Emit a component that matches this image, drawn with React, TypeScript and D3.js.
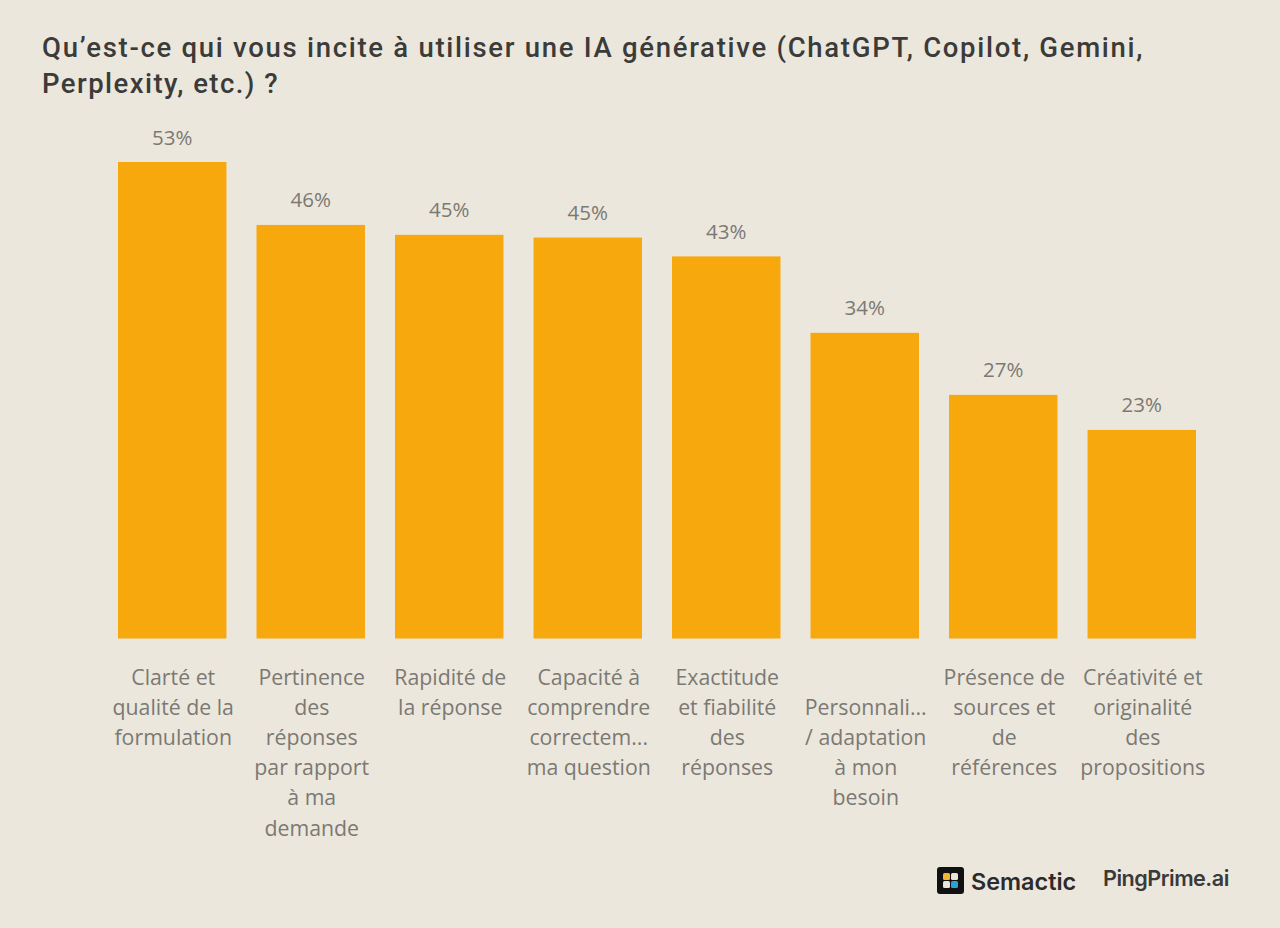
import React, { useEffect, useRef } from 'react';
import * as d3 from 'd3';

const titleLines = [
	'Qu’est-ce qui vous incite à utiliser une IA générative (ChatGPT, Copilot, Gemini,',
	'Perplexity, etc.) ?',
];
const categories = [
	['Clarté et', 'qualité de la', 'formulation'],
	['Pertinence', 'des', 'réponses', 'par rapport', 'à ma', 'demande'],
	['Rapidité de', 'la réponse'],
	['Capacité à', 'comprendre', 'correctem...', 'ma question'],
	['Exactitude', 'et fiabilité', 'des', 'réponses'],
	['', 'Personnali...', '/ adaptation', 'à mon', 'besoin'],
	['Présence de', 'sources et', 'de', 'références'],
	['Créativité et', 'originalité', 'des', 'propositions'],
];
// heights, the labels are rounded
const values = [53, 46, 44.9, 44.6, 42.5, 34, 27.1, 23.2];
const valueLabels = ['53%', '46%', '45%', '45%', '43%', '34%', '27%', '23%'];
const logoColors = ['#f2b632', '#e8e4da', '#e8e4da', '#2a9fd8'];

const width = 1280;
const height = 928;
const background = '#ece7dd';

const App: React.FC = () => {
	const svgRef = useRef<SVGSVGElement | null>(null);

	useEffect(() => {
		if (!svgRef.current) return;

		const svg = d3.select(svgRef.current);
		svg.selectAll('*').remove();

		svg.append('rect').attr('width', width).attr('height', height).attr('fill', background);

		const x = d3
			.scaleBand<number>()
			.domain(d3.range(values.length))
			.range([118, 1196])
			.paddingInner(0.217)
			.paddingOuter(0);
		const y = d3.scaleLinear().domain([0, 53]).range([638.5, 162]);

		// titre
		svg
			.append('g')
			.selectAll('text')
			.data(titleLines)
			.join('text')
			.attr('x', 42)
			.attr('y', (_, i) => 57 + i * 36)
			.attr('font-family', 'Roboto, sans-serif')
			.attr('font-size', 27.5)
			.attr('font-weight', 500)
			.attr('letter-spacing', (_, i) => (i === 0 ? 1.71 : 1.45))
			.attr('fill', '#3b3b39')
			.text((d) => d);

		// barres
		svg
			.append('g')
			.selectAll('rect')
			.data(values)
			.join('rect')
			.attr('x', (_, i) => x(i) as number)
			.attr('y', (d) => y(d))
			.attr('width', x.bandwidth())
			.attr('height', (d) => y(0) - y(d))
			.attr('fill', '#f6a80d');

		// valeurs
		svg
			.append('g')
			.selectAll('text')
			.data(values)
			.join('text')
			.attr('x', (_, i) => (x(i) as number) + x.bandwidth() / 2)
			.attr('y', (d) => y(d) - 17.5)
			.attr('text-anchor', 'middle')
			.attr('font-family', '"Open Sans", sans-serif')
			.attr('font-size', 20.5)
			.attr('fill', '#7b7973')
			.text((_, i) => valueLabels[i]);

		// libellés
		const labels = svg
			.append('g')
			.selectAll('text')
			.data(categories)
			.join('text')
			.attr('text-anchor', 'middle')
			.attr('font-family', '"Open Sans", sans-serif')
			.attr('font-size', 21.3)
			.attr('fill', '#7b7973');
		labels
			.selectAll('tspan')
			.data((d, i) => d.map((line) => ({ line, i })))
			.join('tspan')
			.attr('x', (d) => (x(d.i) as number) + x.bandwidth() / 2 + 1)
			.attr('y', (_, j) => 684.5 + j * 30.2)
			.text((d) => d.line);

		// logos
		const logo = svg.append('g').attr('transform', 'translate(937,867)');
		logo.append('rect').attr('width', 27).attr('height', 27).attr('rx', 3).attr('fill', '#111111');
		logo
			.selectAll('rect.cell')
			.data(logoColors)
			.join('rect')
			.attr('class', 'cell')
			.attr('x', (_, i) => 6 + (i % 2) * 8)
			.attr('y', (_, i) => 6 + Math.floor(i / 2) * 8)
			.attr('width', 7)
			.attr('height', 7)
			.attr('rx', 1.5)
			.attr('fill', (d) => d);

		svg
			.append('text')
			.attr('x', 971)
			.attr('y', 890)
			.attr('font-family', 'Inter, sans-serif')
			.attr('font-size', 23.4)
			.attr('font-weight', 600)
			.attr('fill', '#2b2b2b')
			.text('Semactic');

		svg
			.append('text')
			.attr('x', 1103)
			.attr('y', 886)
			.attr('font-family', 'Inter, sans-serif')
			.attr('font-size', 21.6)
			.attr('font-weight', 600)
			.attr('letter-spacing', -0.5)
			.attr('fill', '#3a3a3a')
			.text('PingPrime.ai');
	}, []);

	return (
		<svg
			ref={svgRef}
			width={width}
			height={height}
			style={{ position: 'absolute', left: 0, top: 0, display: 'block' }}
		/>
	);
};

export default App;
